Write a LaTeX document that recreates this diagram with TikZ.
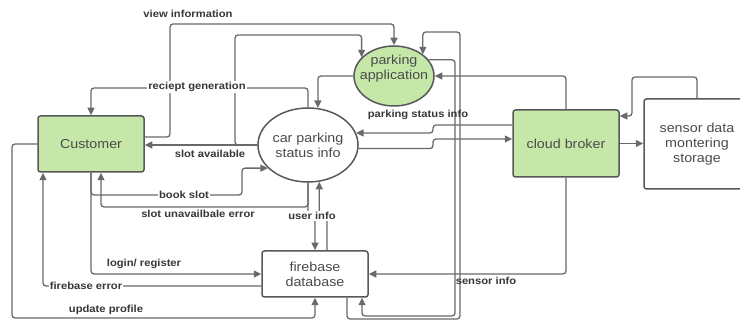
\documentclass[tikz,border=0pt]{standalone}
\usepackage{fontspec}
\setmainfont{Liberation Sans}[FakeStretch=1.1]
\usetikzlibrary{arrows.meta,shapes.geometric}
\definecolor{ln}{RGB}{105,105,105}
\definecolor{bd}{RGB}{88,88,88}
\definecolor{gfill}{RGB}{197,232,168}
\definecolor{txt}{RGB}{75,75,75}
\definecolor{lblc}{RGB}{55,55,55}
\begin{document}
\begin{tikzpicture}[x=1pt,y=-1pt,
  flow/.style={draw=ln,line width=1.3pt,rounded corners=3pt,-{Triangle[length=7.5pt,width=7pt]}},
  nodetext/.style={text=txt,font=\fontsize{13}{15}\selectfont,align=center},
  gbox/.style={draw=bd,line width=1.5pt,fill=gfill,rounded corners=2.5pt,nodetext,inner sep=0pt},
  wbox/.style={draw=bd,line width=1.5pt,fill=white,rounded corners=2.5pt,nodetext,inner sep=0pt},
  lbl/.style={font=\bfseries\fontsize{10.2}{12}\selectfont,text=lblc,inner sep=1pt},
  lblw/.style={lbl,fill=white},
]
\useasboundingbox (0,0) rectangle (740,320);
% nodes
\node[gbox,minimum width=106pt,minimum height=56pt] (cust) at (91,144) {Customer};
\node[gbox,minimum width=106pt,minimum height=67pt] (cb) at (566,143.5) {cloud broker};
\node[wbox,minimum width=106pt,minimum height=90pt] (sds) at (697,144) {sensor data\\montering\\storage};
\node[wbox,minimum width=106pt,minimum height=46pt] (fb) at (315,274) {firebase\\database};
\node[ellipse,draw=bd,line width=1.5pt,fill=white,minimum width=93pt,minimum height=74pt,inner sep=0pt,nodetext] (cpsi) at (308,145) {car parking\\status info};
\node[ellipse,draw=bd,line width=1.5pt,fill=gfill,minimum width=80pt,minimum height=60pt,inner sep=0pt] (papp) at (394,76) {};
\node[nodetext] (papptxt) at (394,69) {parking\\application};
\coordinate (su) at ([xshift=10pt]cust.south);
\coordinate (fe) at ([xshift=-48pt]cust.south);
\coordinate (fbo) at ([xshift=32pt]fb.south);
\coordinate (fbi) at ([xshift=47pt]fb.south);
\coordinate (fbu) at ([xshift=12pt]fb.north);
% connectors
\draw[flow] (cust.east |- 0,137) -- (170,137) -- (170,24) -- (papp.north |- 0,24) -- (papp.north);
\draw[flow] (cpsi.west) -- (235,145) -- (235,35) -- (papp.150 |- 0,35) -- (papp.150);
\draw[flow] (cpsi.west) -- (cpsi.west -| cust.east);
\draw[flow] (cpsi.north) -- (308,88) -- (91,88) -- (cust.north);
\draw[flow] (papp.west) -- (cpsi.75 |- papp.west) -- (cpsi.75);
\draw[flow] (cust.south) |- (242,195) |- (cpsi.210);
\draw[flow] (cust.south) |- (fb.west);
\draw[flow] (cpsi.south) |- (su |- 0,207) -- (su);
\draw[flow] (cpsi.south) -- (308,216) -- (fb.north |- 0,216) -- (fb.north);
\draw[flow] (fbu) -- (fbu |- 0,216) -- (cpsi.287 |- 0,216) -- (cpsi.287);
\draw[flow] (fb.west |- 0,286) -| (fe);
\draw[flow] (cust.west) -- (12,144) -- (12,318) -- (fb.south |- 0,318) -- (fb.south);
\draw[flow] (cb.west |- 0,125) -- (433,125) |- (cpsi.14);
\draw[flow] (cpsi.-4) -| (433,139) -- (cb.west |- 0,139);
\draw[flow] (fbo) |- (460,319) |- (papp.37 |- 0,32) -- (papp.37);
\draw[flow] (papp.25) -| (455,316) -| (fbi);
\draw[flow] (cb.north) |- (papp.east);
\draw[flow] (cb.east) -- (cb.east -| sds.west);
\draw[flow] (sds.north) |- (632,77) |- (cb.east |- 0,116);
\draw[flow] (cb.south) |- (fb.east);
% labels
\node[lbl] (l1) at (188,14) {view information};
\node[lblw] (l2) at (197,87) {reciept generation};
\node[lbl] (l3) at (210,154) {slot available};
\node[lbl] (l4) at (418,115) {parking status info};
\node[lblw] (l5) at (184,195) {book slot};
\node[lbl] (l6) at (198,214) {slot unavailbale error};
\node[lblw] (l7) at (312,216) {user info};
\node[lbl] (l8) at (144,264) {login/ register};
\node[lblw] (l9) at (86,286) {firebase error};
\node[lbl] (l10) at (106,310) {update profile};
\node[lbl] (l11) at (486,281) {sensor info};
\end{tikzpicture}
\end{document}
